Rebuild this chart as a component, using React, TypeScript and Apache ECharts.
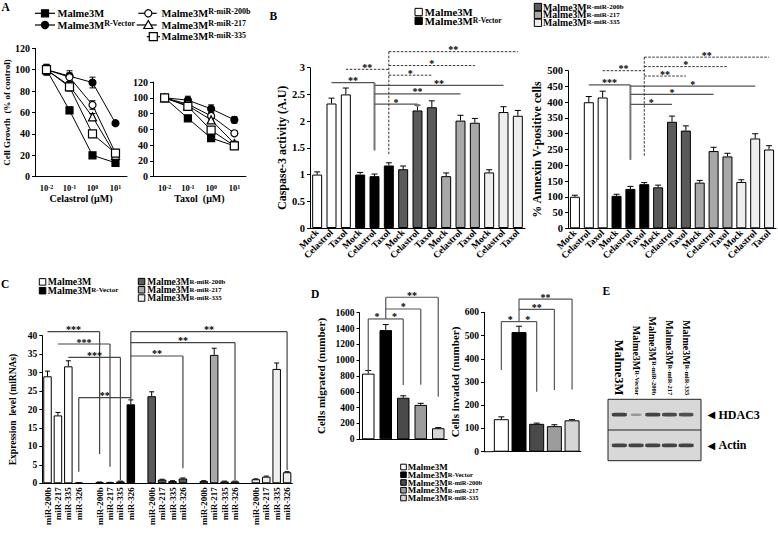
import React, { useEffect, useRef } from 'react';
import * as echarts from 'echarts';

const SERIF = "'Liberation Serif', 'Times New Roman', Times, serif";

// ---------------- Panel A : cell growth (% of control) ----------------
const doseExponents = ['-2', '-1', '0', '1'];
const celastrolMalme3M = [100, 62, 20, 13];
const celastrolVector = [100, 94, 88, 50];
const celastrol200b = [100, 93, 67, 22];
const celastrol217 = [100, 85, 56, 20];
const celastrol335 = [100, 84, 40, 22];
const celastrolErrMalme3M = [5, 3, 2, 2];
const celastrolErrVector = [5, 5, 5, 2];
const celastrolErr200b = [4, 4, 4, 3];
const celastrolErr217 = [4, 4, 3, 3];
const celastrolErr335 = [4, 4, 3, 3];
const taxolMalme3M = [100, 74, 49, 39];
const taxolVector = [100, 97, 86, 72];
const taxol200b = [100, 92, 77, 55];
const taxol217 = [100, 90, 72, 42];
const taxol335 = [100, 89, 59, 39];
const taxolErrMalme3M = [4, 3, 2, 2];
const taxolErrVector = [4, 5, 5, 4];
const taxolErr200b = [4, 4, 4, 3];
const taxolErr217 = [4, 4, 4, 3];
const taxolErr335 = [4, 3, 3, 3];

// ---------------- Panel B : caspase-3 / annexin V ----------------
const treatments = ['Mock', 'Celastrol', 'Taxol'];
const caspaseMalme3M = [1.0, 2.33, 2.5];
const caspaseVector = [1.0, 0.97, 1.17];
const caspase200b = [1.1, 2.2, 2.26];
const caspase217 = [0.97, 2.01, 1.97];
const caspase335 = [1.04, 2.17, 2.1];
const caspaseErrMalme3M = [0.05, 0.1, 0.12];
const caspaseErrVector = [0.04, 0.04, 0.05];
const caspaseErr200b = [0.06, 0.1, 0.12];
const caspaseErr217 = [0.06, 0.1, 0.08];
const caspaseErr335 = [0.05, 0.1, 0.1];
const annexinMalme3M = [100, 400, 415];
const annexinVector = [103, 125, 140];
const annexin200b = [130, 338, 310];
const annexin217 = [145, 245, 228];
const annexin335 = [147, 285, 250];
const annexinErrMalme3M = [5, 18, 20];
const annexinErrVector = [5, 8, 5];
const annexinErr200b = [7, 18, 15];
const annexinErr217 = [7, 12, 10];
const annexinErr335 = [7, 15, 12];

// ---------------- Panel C : miRNA expression ----------------
const mirnas = ['miR-200b', 'miR-217', 'miR-335', 'miR-326'];
const exprMalme3M = [29.0, 18.4, 31.7, 0.1];
const exprVector = [0.3, 0.2, 0.5, 21.4];
const expr200b = [23.6, 1.0, 0.6, 1.3];
const expr217 = [0.6, 34.8, 0.5, 0.5];
const expr335 = [1.1, 1.8, 31.0, 3.0];
const exprErrMalme3M = [1.4, 0.8, 1.5, 0.05];
const exprErrVector = [0.05, 0.05, 0.1, 1.2];
const exprErr200b = [1.2, 0.1, 0.1, 0.15];
const exprErr217 = [0.1, 1.8, 0.1, 0.1];
const exprErr335 = [0.1, 0.15, 1.6, 0.15];

// ---------------- Panel D : migration / invasion ----------------
const migrated = [830, 1380, 525, 435, 140];
const migratedErr = [40, 70, 25, 20, 8];
const invaded = [140, 515, 120, 110, 135];
const invadedErr = [10, 25, 3, 6, 3];

// ---------------- Panel E : western blot ----------------
const blotLaneSup = ['', 'R-Vector', 'R-miR-200b', 'R-miR-217', 'R-miR-335'];
const blotRows = ['Actin', 'HDAC3'];
const hdac3Band = [1.0, 0.3, 1.0, 0.95, 0.9];
const actinBand = [1.0, 1.0, 1.0, 1.0, 1.0];

// ---------------- Legend labels ----------------
const cellLineSup = ['', 'R-Vector', 'R-miR-200b', 'R-miR-217', 'R-miR-335'];

// ---------------- Significance brackets (data units) ----------------
// ['h', fromIdx, toIdx, y, dashed, label] or ['v', idx, y1, y2, dashed]
type Seg = [string, number, number, number, boolean, string?];
const bracketsCaspase: Seg[] = [
  ['v', 4, 2.72, 1.45, false],
  ['h', 1, 4, 2.72, false, '**'],
  ['h', 4, 13, 2.67, false, '**'],
  ['h', 4, 10, 2.51, false, '**'],
  ['h', 4, 7, 2.32, false, '*'],
  ['v', 7, 2.32, 2.26, false],
  ['v', 5, 3.3, 1.37, true],
  ['h', 2, 5, 2.97, true, '**'],
  ['h', 5, 14, 3.3, true, '**'],
  ['h', 5, 11, 3.04, true, '*'],
  ['h', 5, 8, 2.86, true, '*'],
];
const bracketsAnnexin: Seg[] = [
  ['v', 4, 455, 217, false],
  ['h', 1, 4, 455, false, '***'],
  ['h', 4, 13, 451, false, '*'],
  ['h', 4, 10, 425, false, '*'],
  ['h', 4, 7, 393, false, '*'],
  ['v', 5, 543, 227, true],
  ['h', 2, 5, 500, true, '**'],
  ['h', 5, 14, 543, true, '**'],
  ['h', 5, 11, 513, true, '*'],
  ['h', 5, 8, 483, true, '**'],
];
const bracketsExpr: Seg[] = [
  ['h', 0, 5, 41.1, false, '***'],
  ['v', 5, 41.1, 7.9, false],
  ['h', 1, 6, 37.75, false, '***'],
  ['v', 6, 37.75, 4.5, false],
  ['h', 2, 7, 34.1, false, '***'],
  ['v', 7, 34.1, 0.9, false],
  ['h', 3, 8, 23.2, false, '**'],
  ['v', 3, 23.2, 3.1, false],
  ['v', 8, 41.1, 22.8, false],
  ['h', 8, 23, 41.1, false, '**'],
  ['v', 23, 41.1, 3.6, false],
  ['h', 8, 18, 38.1, false, '**'],
  ['v', 18, 38.1, 0.9, false],
  ['h', 8, 13, 34.5, false, '**'],
  ['v', 13, 34.5, 4.1, false],
];
const bracketsMigrated: Seg[] = [
  ['v', 1, 1795, 1521, false],
  ['h', 1, 4, 1795, false, '**'],
  ['v', 4, 1795, 539, false],
  ['h', 1, 3, 1647, false, '*'],
  ['v', 3, 1647, 690, false],
  ['h', 0, 1, 1521, false, '*'],
  ['v', 0, 1521, 855, false],
  ['h', 1, 2, 1521, false, '*'],
  ['v', 2, 1521, 686, false],
];
const bracketsInvaded: Seg[] = [
  ['v', 1, 657, 560, false],
  ['h', 1, 4, 657, false, '**'],
  ['v', 4, 657, 268, false],
  ['h', 1, 3, 613, false, '**'],
  ['v', 3, 613, 266, false],
  ['h', 0, 1, 560, false, '*'],
  ['v', 0, 560, 352, false],
  ['h', 1, 2, 560, false, '*'],
  ['v', 2, 560, 258, false],
];

const PALETTE = ['#ffffff', '#000000', '#5a5a5a', '#a8a8a8', '#eeeeee'];
const D_PALETTE = ['#ffffff', '#000000', '#4a4a4a', '#9c9c9c', '#d6d6d6'];

const GRIDS = [
  { left: 35, top: 48.3, width: 92, height: 128.4 },
  { left: 153, top: 82, width: 93, height: 94.7 },
  { left: 310, top: 67.7, width: 215, height: 160.3 },
  { left: 568, top: 70.7, width: 208, height: 157.6 },
  { left: 42.3, top: 335.7, width: 250, height: 147.6 },
  { left: 359.5, top: 312.7, width: 87.5, height: 126.6 },
  { left: 492.5, top: 312.3, width: 88.4, height: 139.4 },
  { left: 611, top: 399.3, width: 83.5, height: 61.4 },
];

const txt = (fs: number, extra: any = {}) => ({
  fontFamily: SERIF, fontWeight: 'bold', fontSize: fs, color: '#000', ...extra,
});
const AX_LINE = { show: true, lineStyle: { color: '#000', width: 1 } };

function valueY(gi: number, max: number, interval: number, fs: number, name: string, nameGap: number, nameFs: number, extra: any = {}) {
  return {
    type: 'value', gridIndex: gi, min: 0, max, interval,
    axisLine: AX_LINE,
    axisTick: { show: true, length: 3, lineStyle: { color: '#000' } },
    splitLine: { show: false },
    axisLabel: { ...txt(fs), margin: 5, formatter: (v: number) => String(v) },
    name, nameLocation: 'middle', nameGap, nameTextStyle: txt(nameFs),
    ...extra,
  };
}

function catX(gi: number, data: string[], label: any, extra: any = {}) {
  return {
    type: 'category', gridIndex: gi, data,
    axisLine: AX_LINE, axisTick: { show: false },
    axisLabel: { interval: 0, ...label },
    ...extra,
  };
}

function errRender(capW: number, both: boolean) {
  return (params: any, api: any) => {
    const x = api.value(0);
    const v = api.value(1);
    const e = api.value(2);
    const top = api.coord([x, v + e]);
    const bot = api.coord([x, both ? v - e : v]);
    const style = { stroke: '#000', lineWidth: 1, fill: null };
    const children: any[] = [
      { type: 'line', shape: { x1: top[0], y1: top[1], x2: bot[0], y2: bot[1] }, style },
      { type: 'line', shape: { x1: top[0] - capW / 2, y1: top[1], x2: top[0] + capW / 2, y2: top[1] }, style },
    ];
    if (both) children.push({ type: 'line', shape: { x1: bot[0] - capW / 2, y1: bot[1], x2: bot[0] + capW / 2, y2: bot[1] }, style });
    return { type: 'group', children };
  };
}

function errSeries(gi: number, values: (number | null)[], errs: (number | null)[], capW: number, both: boolean, z: number) {
  const data: number[][] = [];
  values.forEach((v, i) => {
    if (v != null && errs[i] != null) data.push([i, v, errs[i] as number]);
  });
  return {
    type: 'custom', xAxisIndex: gi, yAxisIndex: gi, data, z, silent: true,
    encode: { x: 0, y: 1 }, renderItem: errRender(capW, both),
  };
}

function barSeries(gi: number, values: (number | null)[], colors: (string | null)[], barWidth: number) {
  return {
    type: 'bar', xAxisIndex: gi, yAxisIndex: gi, barWidth, silent: true, z: 2,
    data: values.map((v, i) => (v == null ? '-' : {
      value: v, itemStyle: { color: colors[i], borderColor: '#000', borderWidth: 1 },
    })),
  };
}

const LINE_SYMBOLS = [
  { symbol: 'rect', size: 7, fill: '#000' },
  { symbol: 'circle', size: 7, fill: '#000' },
  { symbol: 'circle', size: 7, fill: '#fff' },
  { symbol: 'triangle', size: 8, fill: '#fff' },
  { symbol: 'rect', size: 8, fill: '#fff' },
];

function lineSeries(gi: number, values: number[], k: number) {
  const s = LINE_SYMBOLS[k];
  return {
    type: 'line', xAxisIndex: gi, yAxisIndex: gi, data: values, z: 3, silent: true,
    symbol: s.symbol, symbolSize: s.size,
    lineStyle: { color: '#000', width: 1 },
    itemStyle: { color: s.fill, borderColor: '#000', borderWidth: 1.2 },
  };
}

function groupedFlat(groups: number[][], gap: boolean): (number | null)[] {
  const out: (number | null)[] = [];
  groups.forEach((g, gi) => {
    g.forEach((v) => out.push(v));
    if (gap && gi < groups.length - 1) out.push(null);
  });
  return out;
}
function groupedColors(groups: number[][], palette: string[], gap: boolean): (string | null)[] {
  const out: (string | null)[] = [];
  groups.forEach((g, gi) => {
    g.forEach(() => out.push(palette[gi]));
    if (gap && gi < groups.length - 1) out.push(null);
  });
  return out;
}

function richSup(main: string, sup: string) {
  return sup ? `{m|${main}}{s|${sup}}` : `{m|${main}}`;
}

function textEl(x: number, y: number, main: string, sup: string, fs: number, sfs: number, lh: number) {
  return {
    type: 'text', x, y, z: 50, silent: true,
    style: {
      text: richSup(main, sup),
      rich: {
        m: { fontFamily: SERIF, fontWeight: 'bold', fontSize: fs, fill: '#000', lineHeight: lh },
        s: { fontFamily: SERIF, fontWeight: 'bold', fontSize: sfs, fill: '#000', verticalAlign: 'top', lineHeight: sfs * 0.9 },
      },
      align: 'left', verticalAlign: 'middle',
    },
  };
}

function swatchLegend(x: number, y: number, size: number, fill: string, sup: string, fs: number, sfs: number, gapTxt: number, lh: number) {
  return [
    { type: 'rect', z: 50, silent: true, shape: { x, y: y - size / 2, width: size, height: size }, style: { fill, stroke: '#000', lineWidth: 1 } },
    textEl(x + size + gapTxt, y, 'Malme3M', sup, fs, sfs, lh),
  ];
}

function lineLegend(x1: number, x2: number, cx: number, y: number, k: number, tx: number) {
  const els: any[] = [
    { type: 'line', z: 50, silent: true, shape: { x1, y1: y, x2, y2: y }, style: { stroke: '#000', lineWidth: 1.2 } },
  ];
  const st = { fill: LINE_SYMBOLS[k].fill, stroke: '#000', lineWidth: 1.2 };
  if (k === 0 || k === 4) {
    const h = k === 0 ? 3.5 : 4;
    els.push({ type: 'rect', z: 51, silent: true, shape: { x: cx - h, y: y - h, width: 2 * h, height: 2 * h }, style: st });
  } else if (k === 3) {
    els.push({ type: 'polygon', z: 51, silent: true, shape: { points: [[cx, y - 4.5], [cx - 4.5, y + 3.5], [cx + 4.5, y + 3.5]] }, style: st });
  } else {
    els.push({ type: 'circle', z: 51, silent: true, shape: { cx, cy: y, r: 3.6 }, style: st });
  }
  els.push(textEl(tx, y, 'Malme3M', cellLineSup[k], 10.5, 8, 11));
  return els;
}

function bracketEls(chart: any, gi: number, segs: Seg[], opts: { solid: string; solidW: number; vSolid?: string; vSolidW?: number; fs: number }) {
  const els: any[] = [];
  const px = (x: number, y: number) => chart.convertToPixel({ xAxisIndex: gi, yAxisIndex: gi }, [x, y]);
  segs.forEach((s) => {
    const [kind, a, b, c, dashed, label] = s;
    const style: any = dashed
      ? { stroke: '#333', lineWidth: 1, lineDash: [2.5, 1.5] }
      : { stroke: opts.solid, lineWidth: opts.solidW };
    if (kind === 'h') {
      const p1 = px(a, c);
      const p2 = px(b, c);
      els.push({ type: 'line', z: 60, silent: true, shape: { x1: p1[0], y1: p1[1], x2: p2[0], y2: p2[1] }, style });
      if (label) {
        els.push({
          type: 'text', z: 61, silent: true, x: (p1[0] + p2[0]) / 2, y: p1[1] + 3,
          style: { text: label, fontFamily: SERIF, fontWeight: 'bold', fontSize: opts.fs, fill: '#000', align: 'center', verticalAlign: 'bottom' },
        });
      }
    } else {
      const p1 = px(a, b);
      const p2 = px(a, c);
      const vs = !dashed && opts.vSolid ? { stroke: opts.vSolid, lineWidth: opts.vSolidW } : style;
      els.push({ type: 'line', z: 60, silent: true, shape: { x1: p1[0], y1: p1[1], x2: p2[0], y2: p2[1] }, style: vs });
    }
  });
  return els;
}

export default function App() {
  const ref = useRef<HTMLDivElement>(null);
  useEffect(() => {
    if (!ref.current) return;
    const chart = echarts.init(ref.current, undefined, { renderer: 'svg' });

    const bCats = [0, 1, 2, 3, 4].flatMap((g) => treatments.map((t) => `${t}#${g}`));
    const cCats: string[] = [];
    [0, 1, 2, 3, 4].forEach((g) => {
      mirnas.forEach((m) => cCats.push(`${m}#${g}`));
      if (g < 4) cCats.push(`#${g}`);
    });
    const dCats = ['Malme3M', 'R-Vector', 'R-miR-200b', 'R-miR-217', 'R-miR-335'];
    const blotLanes = blotLaneSup.map((s) => (s ? `Malme3M ${s}` : 'Malme3M'));

    const caspGroups = [caspaseMalme3M, caspaseVector, caspase200b, caspase217, caspase335];
    const caspErrGroups = [caspaseErrMalme3M, caspaseErrVector, caspaseErr200b, caspaseErr217, caspaseErr335];
    const annGroups = [annexinMalme3M, annexinVector, annexin200b, annexin217, annexin335];
    const annErrGroups = [annexinErrMalme3M, annexinErrVector, annexinErr200b, annexinErr217, annexinErr335];
    const exprGroups = [exprMalme3M, exprVector, expr200b, expr217, expr335];
    const exprErrGroups = [exprErrMalme3M, exprErrVector, exprErr200b, exprErr217, exprErr335];

    const celLines = [celastrolMalme3M, celastrolVector, celastrol200b, celastrol217, celastrol335];
    const celErrs = [celastrolErrMalme3M, celastrolErrVector, celastrolErr200b, celastrolErr217, celastrolErr335];
    const taxLines = [taxolMalme3M, taxolVector, taxol200b, taxol217, taxol335];
    const taxErrs = [taxolErrMalme3M, taxolErrVector, taxolErr200b, taxolErr217, taxolErr335];

    const doseLabel = {
      formatter: (v: string) => `{b|10}{s|${v}}`,
      rich: {
        b: txt(8.5),
        s: { ...txt(6), verticalAlign: 'top' },
      },
      margin: 7,
    };
    const rotLabel = (fs: number) => ({ ...txt(fs), rotate: 45, margin: 3, formatter: (v: string) => v.split('#')[0] });

    const option: any = {
      animation: false,
      backgroundColor: '#ffffff',
      grid: GRIDS.map((g) => ({ ...g, containLabel: false })),
      xAxis: [
        catX(0, doseExponents, doseLabel, { name: 'Celastrol (μM)', nameLocation: 'middle', nameGap: 15, nameTextStyle: txt(10) }),
        catX(1, doseExponents, doseLabel, { name: 'Taxol  (μM)', nameLocation: 'middle', nameGap: 15, nameTextStyle: txt(10) }),
        catX(2, bCats, rotLabel(9.5)),
        catX(3, bCats, rotLabel(9.5)),
        catX(4, cCats, { ...txt(9), rotate: 90, margin: 4, formatter: (v: string) => v.split('#')[0] }),
        catX(5, dCats, { show: false }),
        catX(6, dCats, { show: false }),
        {
          type: 'category', gridIndex: 7, data: blotLanes, position: 'top',
          axisLine: { show: false }, axisTick: { show: false },
          axisLabel: {
            interval: 0, rotate: 90, margin: 4,
            formatter: (v: string) => {
              const [m, s] = v.split(' ');
              return s ? `{m|${m}}{s|${s}}` : `{big|${m}}`;
            },
            rich: {
              big: txt(12.5),
              m: txt(10),
              s: { ...txt(6.5), verticalAlign: 'top' },
            },
          },
        },
      ],
      yAxis: [
        valueY(0, 120, 20, 10, 'Cell Growth  (% of control)', 22, 9),
        valueY(1, 120, 20, 10, '', 0, 9),
        valueY(2, 3, 0.5, 10.5, 'Caspase-3 activity (A.U)', 22, 12),
        valueY(3, 500, 50, 10.5, '% Annexin V-positive cells', 16, 12),
        valueY(4, 40, 5, 9.5, 'Expression  level (miRNAs)', 24, 9.5),
        valueY(5, 1600, 200, 9.5, 'Cells migrated (number)', 33, 11),
        valueY(6, 600, 100, 9.5, 'Cells invaded (number)', 16, 11, { offset: 8.5 }),
        {
          type: 'category', gridIndex: 7, data: blotRows, position: 'right',
          axisLine: { show: false }, axisTick: { show: false }, splitLine: { show: false },
          axisLabel: {
            margin: 13,
            formatter: (v: string) => `{t|◀} {n|${v}}`,
            rich: {
              t: { fontFamily: 'DejaVu Sans', fontSize: 10, color: '#000' },
              n: txt(12),
            },
          },
        },
      ],
      series: [
        ...celLines.map((d, k) => lineSeries(0, d, k)),
        ...celErrs.map((e, k) => errSeries(0, celLines[k], e, 6, true, 1)),
        ...taxLines.map((d, k) => lineSeries(1, d, k)),
        ...taxErrs.map((e, k) => errSeries(1, taxLines[k], e, 6, true, 1)),
        barSeries(2, groupedFlat(caspGroups, false), groupedColors(caspGroups, PALETTE, false), 10),
        errSeries(2, groupedFlat(caspGroups, false), groupedFlat(caspErrGroups, false), 6, false, 3),
        barSeries(3, groupedFlat(annGroups, false), groupedColors(annGroups, PALETTE, false), 10),
        errSeries(3, groupedFlat(annGroups, false), groupedFlat(annErrGroups, false), 6, false, 3),
        barSeries(4, groupedFlat(exprGroups, true), groupedColors(exprGroups, PALETTE, true), 8.5),
        errSeries(4, groupedFlat(exprGroups, true), groupedFlat(exprErrGroups, true), 5, false, 3),
        barSeries(5, migrated, D_PALETTE, 12.5),
        errSeries(5, migrated, migratedErr, 6, false, 3),
        barSeries(6, invaded, D_PALETTE, 15),
        errSeries(6, invaded, invadedErr, 6, false, 3),
        {
          type: 'scatter', xAxisIndex: 7, yAxisIndex: 7, silent: true, z: 5,
          symbol: 'roundRect',
          data: [
            ...hdac3Band.map((v, i) => ({
              value: [i, 1], symbolSize: [15 * (0.6 + 0.4 * v), 2 + 1.8 * v],
              itemStyle: { color: `rgb(${Math.round(30 + (1 - v) * 150)},${Math.round(30 + (1 - v) * 150)},${Math.round(30 + (1 - v) * 150)})` },
            })),
            ...actinBand.map((v, i) => ({
              value: [i, 0], symbolSize: [15 * (0.6 + 0.4 * v), 2 + 1.8 * v],
              itemStyle: { color: `rgb(${Math.round(30 + (1 - v) * 150)},${Math.round(30 + (1 - v) * 150)},${Math.round(30 + (1 - v) * 150)})` },
            })),
          ],
        },
      ],
    };
    chart.setOption(option);

    const panelLetter = (t: string, x: number, y: number) => ({
      type: 'text', x, y, z: 50, silent: true,
      style: { text: t, fontFamily: SERIF, fontWeight: 'bold', fontSize: 11.5, fill: '#000', align: 'left', verticalAlign: 'top' },
    });

    const g7 = GRIDS[7];
    const d6 = GRIDS[6];
    const blotTop = g7.top;
    const blotH = g7.height;
    const graphics: any[] = [
      panelLetter('A', 1.5, 0.5),
      panelLetter('B', 269.5, 9.5),
      panelLetter('C', 1, 277.5),
      panelLetter('D', 311, 287.5),
      panelLetter('E', 602.5, 284.5),
      // Panel A legend
      ...lineLegend(35, 55, 45, 13.3, 0, 57.5),
      ...lineLegend(35, 55, 45, 25, 1, 57.5),
      ...lineLegend(138.3, 156.7, 148.3, 13.3, 2, 161.5),
      ...lineLegend(136.7, 156.7, 148.3, 25, 3, 161.5),
      ...lineLegend(146.7, 160, 153.3, 36.7, 4, 161.5),
      // Panel B legend
      ...swatchLegend(415, 12, 7.3, PALETTE[0], cellLineSup[0], 10.8, 7.5, 2.5, 8.5),
      ...swatchLegend(415, 20.8, 7.3, PALETTE[1], cellLineSup[1], 10.8, 7.5, 2.5, 8.5),
      ...swatchLegend(534.3, 7, 7.3, PALETTE[2], cellLineSup[2], 9.8, 7, 1.5, 7.8),
      ...swatchLegend(534.3, 14.9, 7.3, PALETTE[3], cellLineSup[3], 9.8, 7, 1.5, 7.8),
      ...swatchLegend(534.3, 22.8, 7.3, PALETTE[4], cellLineSup[4], 9.8, 7, 1.5, 7.8),
      // Panel C legend
      ...swatchLegend(39.3, 281.9, 6.5, PALETTE[0], cellLineSup[0], 9.8, 7, 2, 8.4),
      ...swatchLegend(39.3, 290.7, 6.5, PALETTE[1], cellLineSup[1], 9.8, 7, 2, 8.4),
      ...swatchLegend(138.3, 281.6, 6.5, PALETTE[2], cellLineSup[2], 9.5, 6.8, 2.5, 8),
      ...swatchLegend(138.3, 289.8, 6.5, PALETTE[3], cellLineSup[3], 9.5, 6.8, 2.5, 8),
      ...swatchLegend(138.3, 298, 6.5, PALETTE[4], cellLineSup[4], 9.5, 6.8, 2.5, 8),
      // Panel D legend
      ...[0, 1, 2, 3, 4].flatMap((k) => swatchLegend(400.7, 467 + k * 7.75, 5.6, D_PALETTE[k], cellLineSup[k], 9, 6.5, 1.5, 7.5)),
      // D-right x axis line extension to the offset y axis
      { type: 'line', z: 40, silent: true, shape: { x1: d6.left - 8.5, y1: d6.top + d6.height, x2: d6.left, y2: d6.top + d6.height }, style: { stroke: '#000', lineWidth: 1 } },
      // Blot membrane
      { type: 'rect', z: 0, silent: true, shape: { x: 608, y: blotTop, width: 93, height: blotH }, style: { fill: '#d8d8d8', stroke: '#222', lineWidth: 1 } },
      { type: 'line', z: 1, silent: true, shape: { x1: 608, y1: blotTop + blotH / 2, x2: 701, y2: blotTop + blotH / 2 }, style: { stroke: '#222', lineWidth: 1 } },
      // brackets
      ...bracketEls(chart, 2, bracketsCaspase, { solid: '#555', solidW: 1.3, vSolid: '#777', vSolidW: 2, fs: 10 }),
      ...bracketEls(chart, 3, bracketsAnnexin, { solid: '#555', solidW: 1.3, vSolid: '#777', vSolidW: 2, fs: 10 }),
      ...bracketEls(chart, 4, bracketsExpr, { solid: '#444', solidW: 1.2, fs: 10 }),
      ...bracketEls(chart, 5, bracketsMigrated, { solid: '#555', solidW: 1.2, fs: 10 }),
      ...bracketEls(chart, 6, bracketsInvaded, { solid: '#555', solidW: 1.2, fs: 10 }),
    ];
    chart.setOption({ graphic: { elements: graphics } });

    return () => chart.dispose();
  }, []);

  return (
    <div
      ref={ref}
      style={{ position: 'absolute', left: 0, top: 0, width: 778, height: 538, background: '#fff' }}
    />
  );
}
